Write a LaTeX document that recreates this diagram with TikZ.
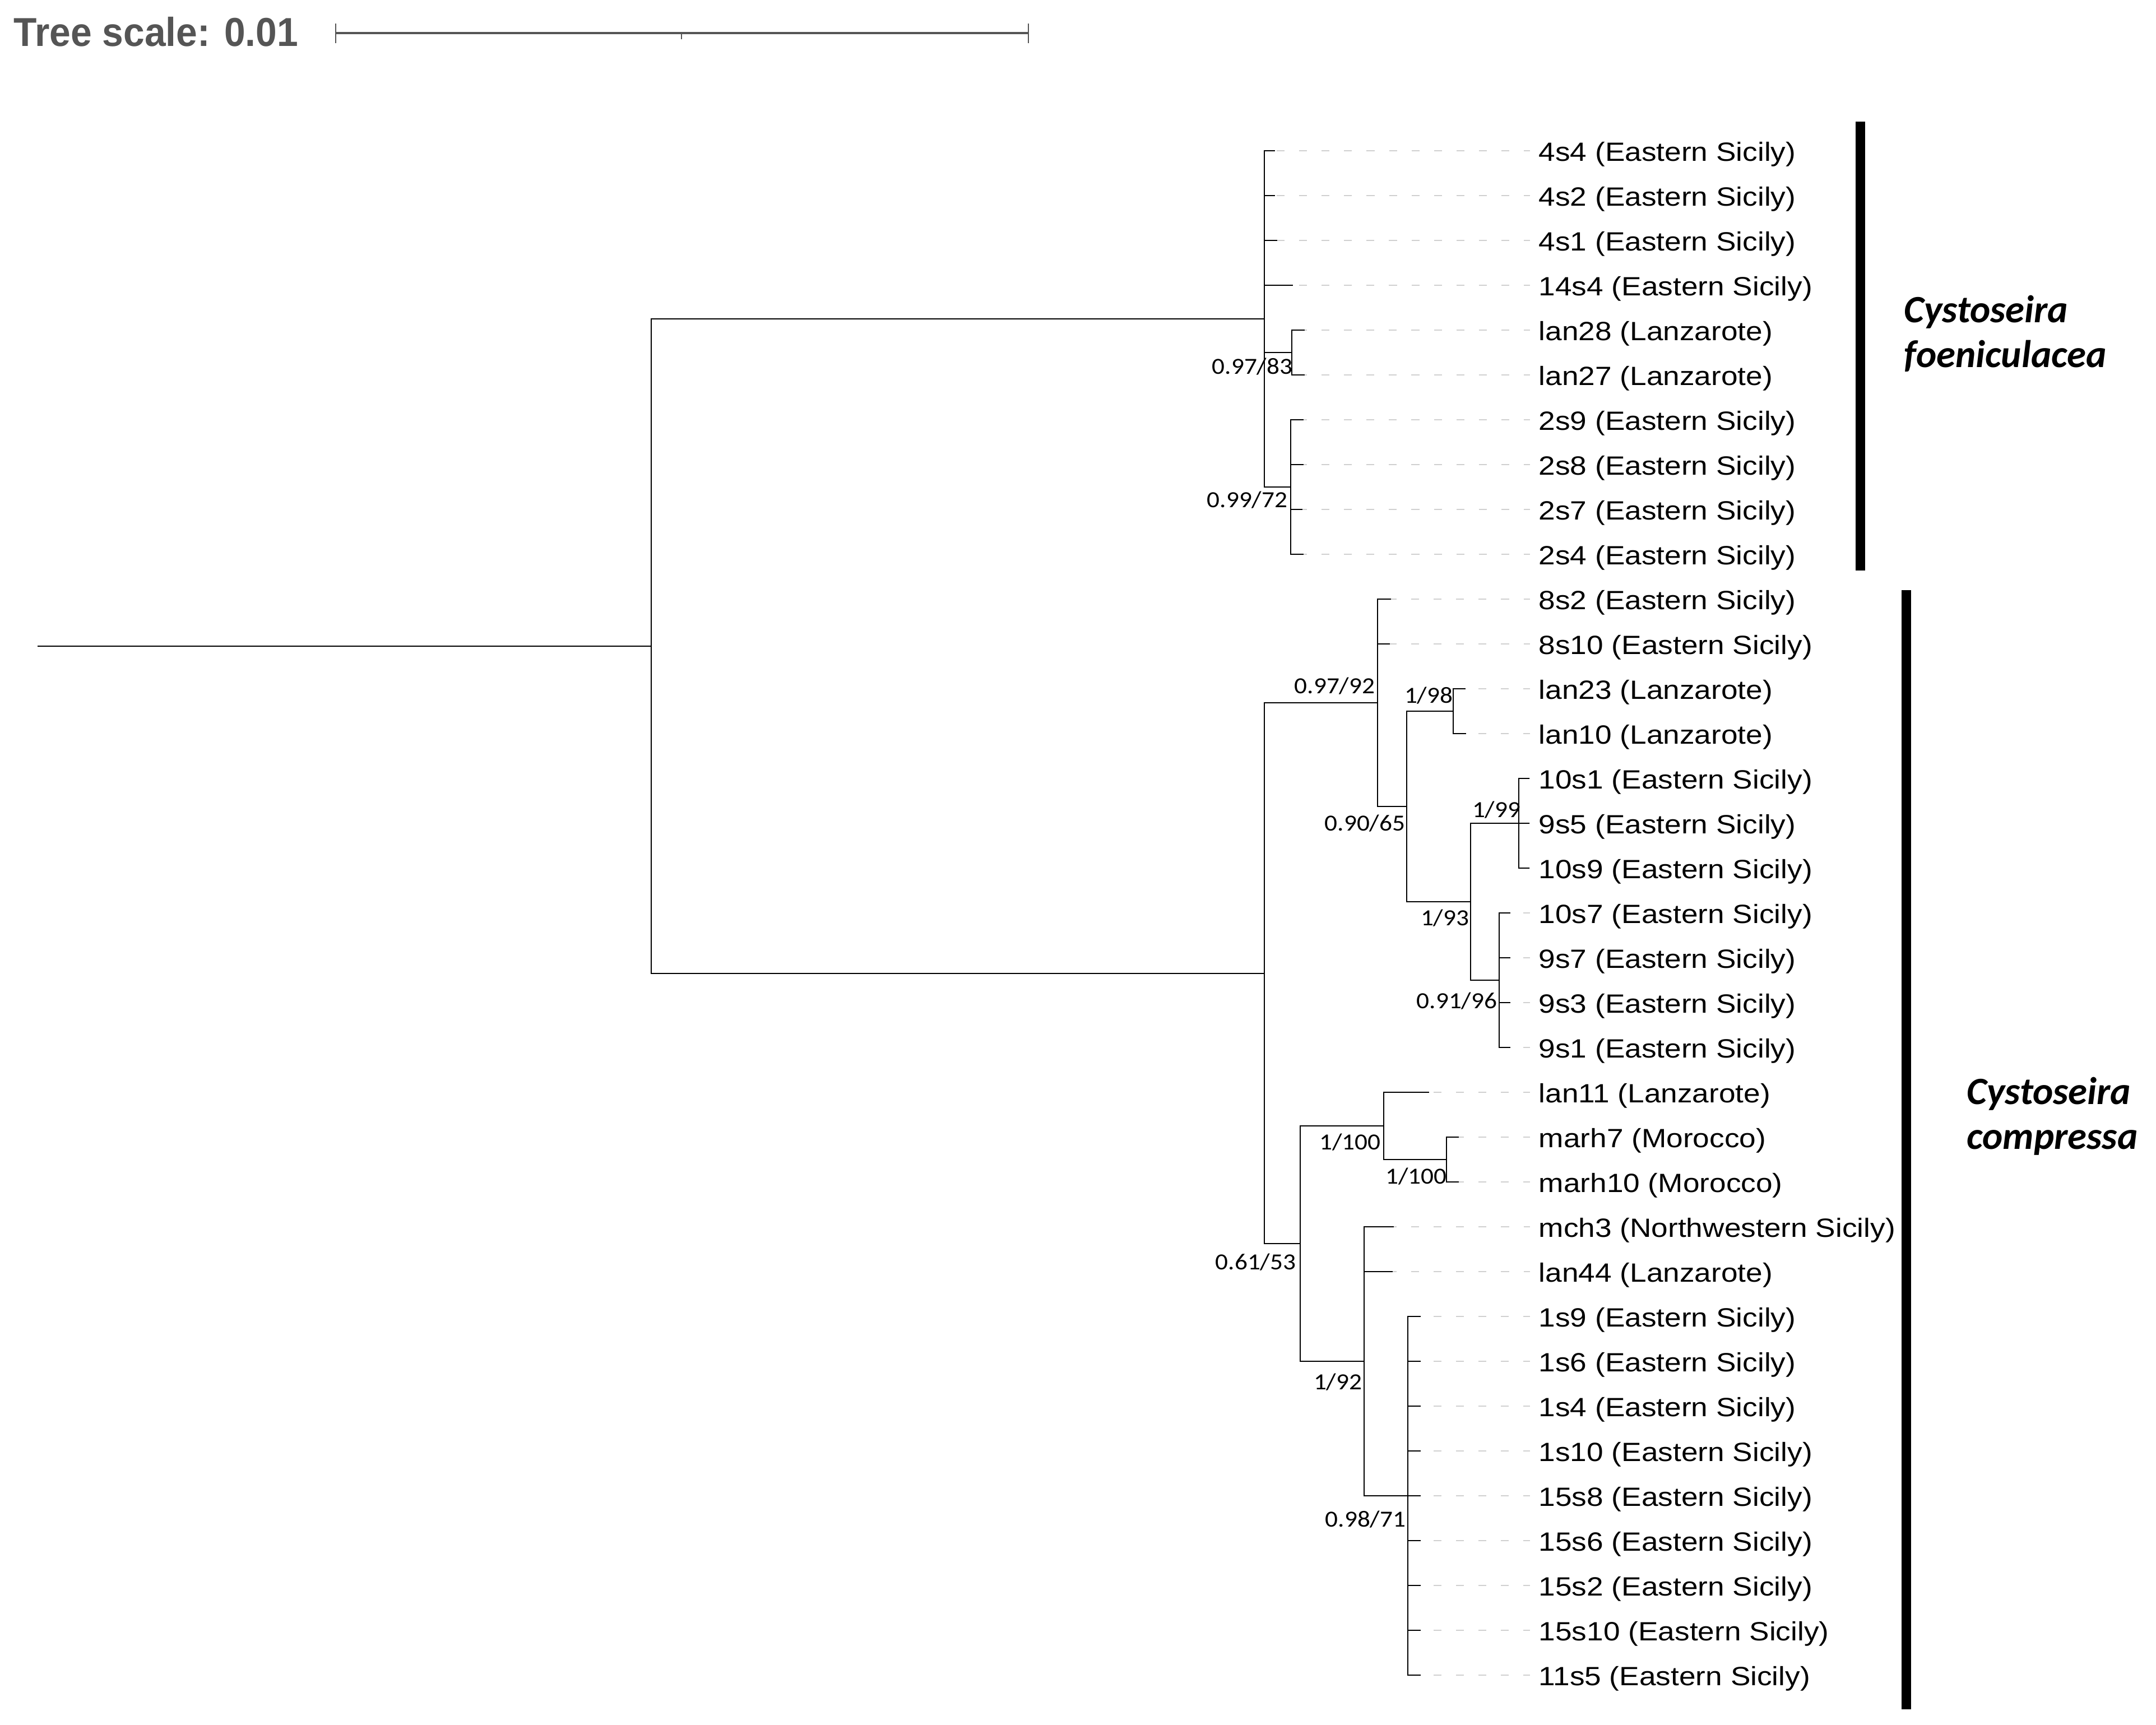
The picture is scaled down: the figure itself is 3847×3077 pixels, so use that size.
\documentclass[tikz,border=0pt]{standalone}
\usepackage{fontspec}
\usepackage{xcolor}
\usepackage{tikz}
\usetikzlibrary{positioning,calc}

\newfontfamily\leaffont[FakeStretch=1.13]{Liberation Sans}
\newfontfamily\suppfont[FakeStretch=1.1]{Carlito}
\newfontfamily\treescalefont[FakeStretch=0.94]{Liberation Sans}
\newfontfamily\cladefont{Carlito}
\definecolor{scalegray}{HTML}{555555}
\definecolor{leadgray}{HTML}{D0D0D0}

\begin{document}
\begin{tikzpicture}[x=0.01cm, y=-0.01cm,
                branch/.style = {line width=0.55pt},
                leader/.style = {draw=leadgray, line width=0.45pt, dash pattern=on 4pt off 7.4pt},
                leaf/.style = {anchor=base west, inner sep=0pt, font=\leaffont\fontsize{13.4}{16}\selectfont},
                supp/.style = {anchor=north east, inner sep=0pt, font=\suppfont\fontsize{11.7}{14}\selectfont},
                clade/.style = {anchor=west, inner sep=0pt, align=left, font=\cladefont\bfseries\itshape\fontsize{19.6}{22.8}\selectfont},
                scalebar/.style = {draw=scalegray, line width=1.2pt}]
                \useasboundingbox (0,0) rectangle (3847,3077);

                % tree scale
                \node[anchor=base west, inner sep=0pt, text=scalegray, font=\treescalefont\bfseries\fontsize{20.5}{24}\selectfont] (scaletxt) at (24,82) {Tree scale: 0.01};
                \coordinate (sb0) at (599,59);
                \coordinate (sbm) at (1216,59);
                \coordinate (sb1) at (1835,59);
                \draw[scalebar] (sb0) -- (sb1);
                \draw[scalebar, line width=0.8pt] (sb0) ++(0,-17) -- ++(0,35);
                \draw[scalebar, line width=0.8pt] (sb1) ++(0,-17) -- ++(0,35);
                \draw[scalebar, line width=0.8pt] (sbm) -- ++(0,11);

                % leaves
                \foreach \i/\n/\lab/\tx in {
                    0/t4s4/4s4 (Eastern Sicily)/2275, 1/t4s2/4s2 (Eastern Sicily)/2275,
                    2/t4s1/4s1 (Eastern Sicily)/2279, 3/t14s4/14s4 (Eastern Sicily)/2307,
                    4/tlan28/lan28 (Lanzarote)/2328, 5/tlan27/lan27 (Lanzarote)/2328,
                    6/t2s9/2s9 (Eastern Sicily)/2326, 7/t2s8/2s8 (Eastern Sicily)/2326,
                    8/t2s7/2s7 (Eastern Sicily)/2324, 9/t2s4/2s4 (Eastern Sicily)/2326,
                    10/t8s2/8s2 (Eastern Sicily)/2482, 11/t8s10/8s10 (Eastern Sicily)/2480,
                    12/tlan23/lan23 (Lanzarote)/2615, 13/tlan10/lan10 (Lanzarote)/2616,
                    14/t10s1/10s1 (Eastern Sicily)/2729, 15/t9s5/9s5 (Eastern Sicily)/2729,
                    16/t10s9/10s9 (Eastern Sicily)/2729, 17/t10s7/10s7 (Eastern Sicily)/2695,
                    18/t9s7/9s7 (Eastern Sicily)/2695, 19/t9s3/9s3 (Eastern Sicily)/2695,
                    20/t9s1/9s1 (Eastern Sicily)/2695, 21/tlan11/lan11 (Lanzarote)/2550,
                    22/tmarh7/marh7 (Morocco)/2603, 23/tmarh10/marh10 (Morocco)/2603,
                    24/tmch3/mch3 (Northwestern Sicily)/2487, 25/tlan44/lan44 (Lanzarote)/2485,
                    26/t1s9/1s9 (Eastern Sicily)/2535, 27/t1s6/1s6 (Eastern Sicily)/2535,
                    28/t1s4/1s4 (Eastern Sicily)/2535, 29/t1s10/1s10 (Eastern Sicily)/2535,
                    30/t15s8/15s8 (Eastern Sicily)/2535, 31/t15s6/15s6 (Eastern Sicily)/2535,
                    32/t15s2/15s2 (Eastern Sicily)/2535, 33/t15s10/15s10 (Eastern Sicily)/2535,
                    34/t11s5/11s5 (Eastern Sicily)/2535} {
                    \coordinate (\n) at (\tx,269+80*\i);
                    \coordinate (\n e) at (2730,269+80*\i);
                    \pgfmathsetmacro\ph{mod(\tx-2358+4000,40)*0.28453}
                    \draw[leader, dash phase=\ph pt] (\n) -- (\n e);
                    \node[leaf] (l\n) at (2745,287+80*\i) {\lab};
                }

                % inner nodes
                \coordinate (base) at (67,1152.75);
                \coordinate (root) at (1162,1152.75);
                \coordinate (F) at (2256,569);
                \coordinate (F1) at (2305,629);
                \coordinate (F2) at (2303,869);
                \coordinate (C) at (2256,1736.5);
                \coordinate (C1) at (2458,1254);
                \coordinate (C2) at (2510,1439);
                \coordinate (C3) at (2593,1269);
                \coordinate (C4) at (2624,1609);
                \coordinate (C5) at (2710,1469);
                \coordinate (C6) at (2675,1749);
                \coordinate (D) at (2320,2219);
                \coordinate (D1) at (2469,2009);
                \coordinate (D2) at (2581,2069);
                \coordinate (D3) at (2434,2429);
                \coordinate (D4) at (2512,2669);

                \draw[branch] (base) -- (root);
                \foreach \p/\c in {root/F, root/C,
                    F/t4s4, F/t4s2, F/t4s1, F/t14s4, F/F1, F/F2,
                    F1/tlan28, F1/tlan27, F2/t2s9, F2/t2s8, F2/t2s7, F2/t2s4,
                    C/C1, C/D, C1/t8s2, C1/t8s10, C1/C2, C2/C3, C2/C4,
                    C3/tlan23, C3/tlan10, C4/C5, C4/C6,
                    C5/t10s1, C5/t9s5, C5/t10s9, C6/t10s7, C6/t9s7, C6/t9s3, C6/t9s1,
                    D/D1, D/D3, D1/tlan11, D1/D2, D2/tmarh7, D2/tmarh10,
                    D3/tmch3, D3/tlan44, D3/D4,
                    D4/t1s9, D4/t1s6, D4/t1s4, D4/t1s10, D4/t15s8, D4/t15s6, D4/t15s2, D4/t15s10, D4/t11s5}
                    \draw[branch] (\p) |- (\c);

                % support values
                \foreach \n/\a/\b/\dx/\dy in {F1/0.97/83/2/9, F2/0.99/72/-5/7,
                    C1/0.97/92/-4/-46, C3/1/98/0/-44, C2/0.90/65/-2/14, C5/1/99/4/-40,
                    C4/1/93/-2/13, C6/0.91/96/-3/21, D1/1/100/-5/13, D2/1/100/1/14,
                    D/0.61/53/-7/17, D3/1/92/-3/21, D4/0.98/71/-3/26}
                    \node[supp] (s\n) at ($(\n)+(\dx,\dy)$) {\a/\b};

                % clades
                \fill (3311,217) rectangle (3328,1018);
                \fill (3393,1053) rectangle (3410,3050);
                \node[clade] (foen) at (3397,595) {Cystoseira\\foeniculacea};
                \node[clade] (comp) at (3509,1992) {Cystoseira\\compressa};
            \end{tikzpicture}
\end{document}
